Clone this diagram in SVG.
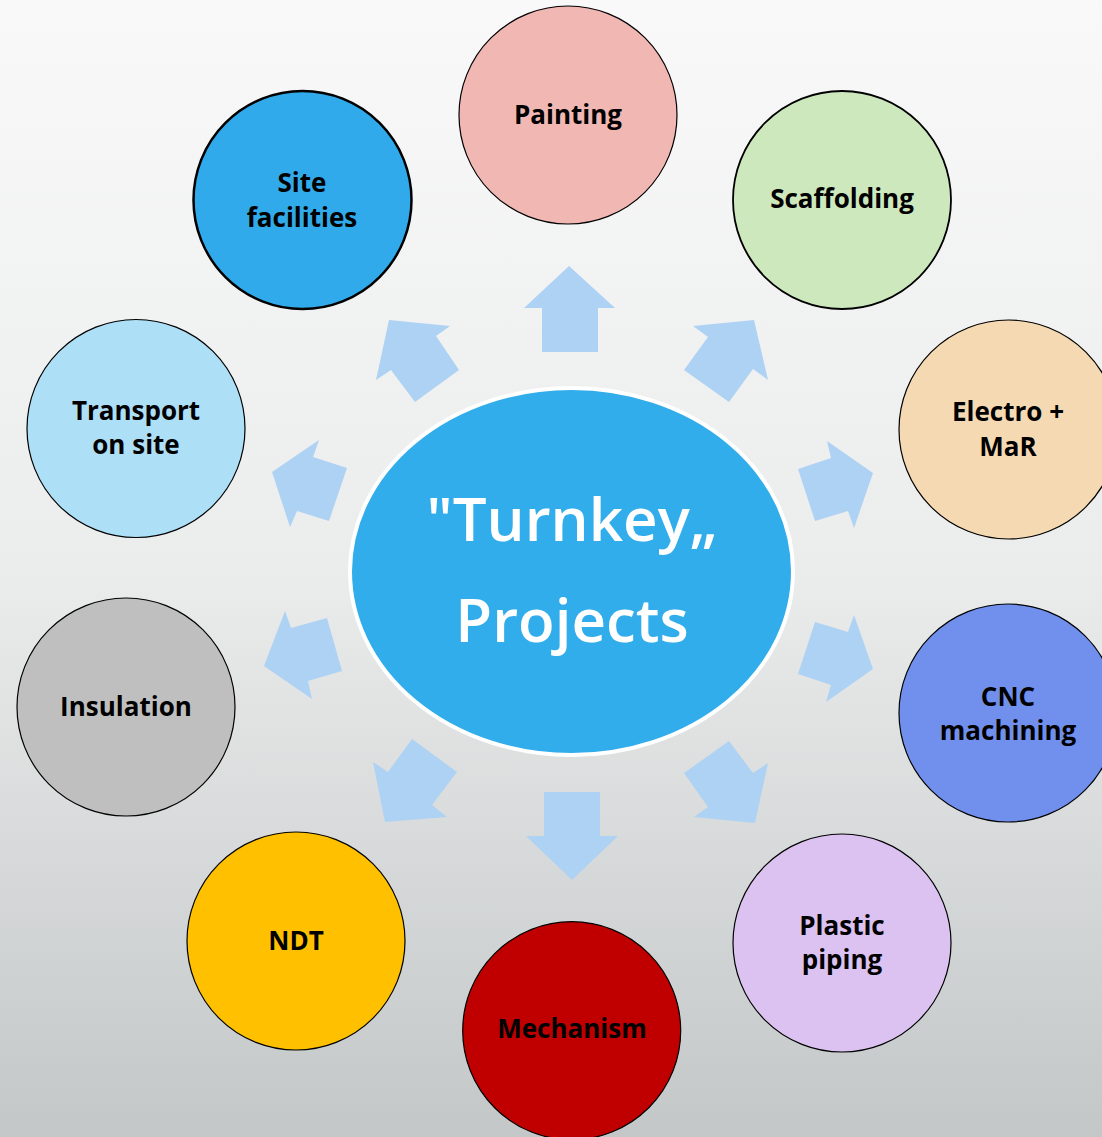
<svg xmlns="http://www.w3.org/2000/svg" width="1102" height="1137" viewBox="0 0 1102 1137">
  <defs>
    <linearGradient id="bg" x1="0" y1="0" x2="0" y2="1">
      <stop offset="0" stop-color="#f9f9fa"/>
      <stop offset="0.5" stop-color="#ebecec"/>
      <stop offset="1" stop-color="#c3c7c8"/>
    </linearGradient>
  </defs>
  <style>
    .node { stroke: #000; stroke-width: 1.2; }
    .thick { stroke-width: 2.5; }
    .mid { stroke-width: 1.8; }
    .lbl { font-family: "Open Sans", "Noto Sans", "DejaVu Sans", sans-serif; font-weight: 700; font-size: 26px; fill: #000; text-anchor: middle; }
    .arrow { fill: #aed2f4; }
    .hub { fill: #32adeb; stroke: #fff; stroke-width: 4; }
    .hubtxt { font-family: "Open Sans", "Noto Sans", "DejaVu Sans", sans-serif; font-weight: 600; font-size: 60px; fill: #fff; text-anchor: middle; }
  </style>
  <rect x="0" y="0" width="1102" height="1137" fill="url(#bg)"/>

  <g id="connectors">
    <polygon class="arrow" points="569,266 615,308 598,308 598,352 542,352 542,308 524,308"/>
    <polygon class="arrow" points="754,320 768,380 753,369 729,402 684,370 708,337 693,326"/>
    <polygon class="arrow" points="873,473 854,528 848,511 815,521 798,469 831,458 827,441"/>
    <polygon class="arrow" points="873,669 826,702 831,685 798,674 815,622 848,632 854,615"/>
    <polygon class="arrow" points="755,823 694,817 708,807 684,773 729,741 753,773 768,763"/>
    <polygon class="arrow" points="572,880 618,836 600,836 600,792 544,792 544,836 526,836"/>
    <polygon class="arrow" points="385,822 447,817 432,805 457,772 412,739 388,772 373,762"/>
    <polygon class="arrow" points="264,666 312,699 308,681 342,671 327,618 291,628 285,611"/>
    <polygon class="arrow" points="272,472 319,440 313,457 347,468 329,521 297,511 290,527"/>
    <polygon class="arrow" points="389,320 450,326 436,336 459,370 415,402 391,370 376,380"/>
  </g>

  <g id="hub">
    <ellipse class="hub" cx="571.5" cy="571.5" rx="221.5" ry="183.5"/>
    <text class="hubtxt" x="572" y="541">"Turnkey„</text>
    <text class="hubtxt" x="572" y="642">Projects</text>
  </g>

  <g id="painting">
    <circle class="node" cx="568" cy="115" r="109" fill="#f0b7b3"/>
    <text class="lbl" x="568" y="124">Painting</text>
  </g>
  <g id="scaffolding">
    <circle class="node mid" cx="842" cy="200" r="109" fill="#cde8bd"/>
    <text class="lbl" x="842" y="208">Scaffolding</text>
  </g>
  <g id="electro">
    <circle class="node" cx="1008.5" cy="429.5" r="109.5" fill="#f5d9b3"/>
    <text class="lbl" x="1008" y="421">Electro +</text>
    <text class="lbl" x="1008" y="456">MaR</text>
  </g>
  <g id="cnc">
    <circle class="node" cx="1008" cy="713" r="109" fill="#7190ee"/>
    <text class="lbl" x="1008" y="706">CNC</text>
    <text class="lbl" x="1008" y="740">machining</text>
  </g>
  <g id="plastic">
    <circle class="node" cx="842" cy="943" r="109" fill="#dbc2f0"/>
    <text class="lbl" x="842" y="935">Plastic</text>
    <text class="lbl" x="842" y="969">piping</text>
  </g>
  <g id="mechanism">
    <circle class="node" cx="571.7" cy="1030.7" r="109" fill="#c00000"/>
    <text class="lbl" x="572" y="1038">Mechanism</text>
  </g>
  <g id="ndt">
    <circle class="node" cx="296" cy="941" r="109" fill="#ffc000"/>
    <text class="lbl" x="296" y="950">NDT</text>
  </g>
  <g id="insulation">
    <circle class="node" cx="126" cy="707" r="109" fill="#bfbfbf"/>
    <text class="lbl" x="126" y="716">Insulation</text>
  </g>
  <g id="transport">
    <circle class="node" cx="136" cy="428.5" r="109" fill="#addff7"/>
    <text class="lbl" x="136" y="420">Transport</text>
    <text class="lbl" x="136" y="454">on site</text>
  </g>
  <g id="site">
    <circle class="node thick" cx="302.5" cy="200" r="109" fill="#30aaea"/>
    <text class="lbl" x="302" y="192">Site</text>
    <text class="lbl" x="302" y="227">facilities</text>
  </g>
</svg>
